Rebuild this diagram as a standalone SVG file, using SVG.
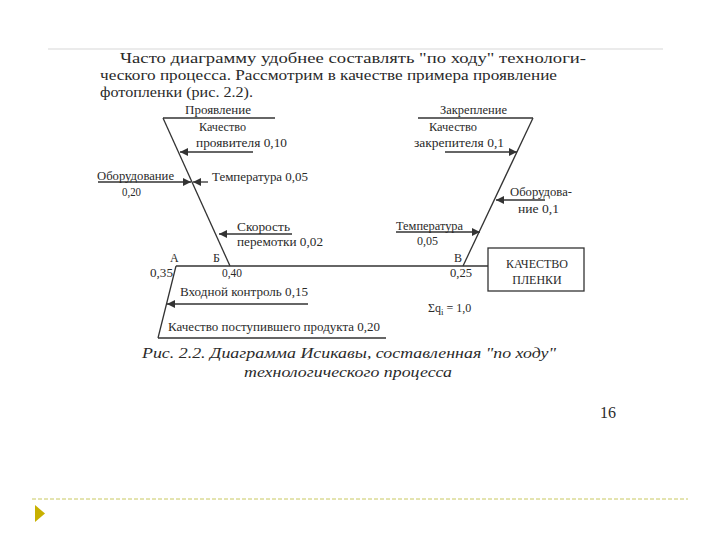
<svg xmlns="http://www.w3.org/2000/svg" width="720" height="540" viewBox="0 0 720 540">
<defs>
<style>
.t{font-family:"Liberation Serif","Times New Roman",serif;fill:#2a2a2a}
.p{font-size:15.5px}
.c{font-size:15.5px;font-style:italic}
.s{font-size:12px}
.ln{stroke:#333;stroke-width:1.3;fill:none}
.ar{stroke:#333;stroke-width:1.3;fill:none;marker-end:url(#ah)}
</style>
<marker id="ah" viewBox="0 0 10 10" refX="10" refY="5" markerWidth="12" markerHeight="8" markerUnits="userSpaceOnUse" orient="auto">
<path d="M0,0 L10,5 L0,10 Z" fill="#333"/>
</marker>
</defs>
<rect width="720" height="540" fill="#fff"/>
<line x1="48" y1="49" x2="663" y2="49" stroke="#d8d8d8" stroke-width="1.2"/>
<g id="paragraph" class="t p">
<text x="120" y="63" textLength="466" lengthAdjust="spacingAndGlyphs">Часто диаграмму удобнее составлять "по ходу" технологи-</text>
<text x="100" y="80" textLength="457" lengthAdjust="spacingAndGlyphs">ческого процесса. Рассмотрим в качестве примера  проявление</text>
<text x="100" y="97" textLength="153" lengthAdjust="spacingAndGlyphs">фотопленки (рис. 2.2).</text>
</g>
<g id="connectors">
<line class="ln" x1="176" y1="266" x2="488" y2="266"/>
<line class="ln" x1="163" y1="118" x2="275" y2="118"/>
<line class="ln" x1="163" y1="118" x2="230" y2="266"/>
<line class="ln" x1="418" y1="118" x2="533" y2="118"/>
<line class="ln" x1="533" y1="118" x2="463" y2="266"/>
<line class="ln" x1="176" y1="266" x2="158" y2="338"/>
<line class="ln" x1="158" y1="338" x2="386" y2="338"/>
<line class="ar" x1="253" y1="152" x2="180" y2="152"/>
<line class="ar" x1="98" y1="182" x2="191" y2="182"/>
<line class="ar" x1="208" y1="182" x2="193" y2="182"/>
<line class="ar" x1="292" y1="234" x2="219" y2="234"/>
<line class="ar" x1="308" y1="304" x2="167" y2="304"/>
<line class="ar" x1="445" y1="152" x2="517" y2="152"/>
<line class="ar" x1="545" y1="200" x2="496" y2="200"/>
<line class="ar" x1="396" y1="232" x2="480" y2="232"/>
</g>
<g id="left-branch" class="t s">
<text x="185" y="114" textLength="66" lengthAdjust="spacingAndGlyphs">Проявление</text>
<text x="199" y="131" textLength="47" lengthAdjust="spacingAndGlyphs">Качество</text>
<text x="196" y="147" textLength="91" lengthAdjust="spacingAndGlyphs">проявителя  0,10</text>
<text x="97" y="180" textLength="77" lengthAdjust="spacingAndGlyphs">Оборудование</text>
<text x="122" y="196" textLength="19" lengthAdjust="spacingAndGlyphs">0,20</text>
<text x="212" y="181" textLength="96" lengthAdjust="spacingAndGlyphs">Температура  0,05</text>
<text x="237" y="231" textLength="53" lengthAdjust="spacingAndGlyphs">Скорость</text>
<text x="237" y="246" textLength="86" lengthAdjust="spacingAndGlyphs">перемотки  0,02</text>
</g>
<g id="right-branch" class="t s">
<text x="440" y="114" textLength="67" lengthAdjust="spacingAndGlyphs">Закрепление</text>
<text x="429" y="131" textLength="48" lengthAdjust="spacingAndGlyphs">Качество</text>
<text x="414" y="147" textLength="90" lengthAdjust="spacingAndGlyphs">закрепителя  0,1</text>
<text x="510" y="196" textLength="62" lengthAdjust="spacingAndGlyphs">Оборудова-</text>
<text x="518" y="213" textLength="41" lengthAdjust="spacingAndGlyphs">ние  0,1</text>
<text x="396" y="230" textLength="67" lengthAdjust="spacingAndGlyphs">Температура</text>
<text x="417" y="245" textLength="21" lengthAdjust="spacingAndGlyphs">0,05</text>
</g>
<g id="points" class="t s">
<text x="170" y="262">А</text>
<text x="150" y="277" textLength="23" lengthAdjust="spacingAndGlyphs">0,35</text>
<text x="213" y="262">Б</text>
<text x="222" y="277" textLength="20" lengthAdjust="spacingAndGlyphs">0,40</text>
<text x="454" y="262">В</text>
<text x="450" y="277" textLength="22" lengthAdjust="spacingAndGlyphs">0,25</text>
</g>
<g id="bottom-branch" class="t s">
<text x="180" y="296" textLength="128" lengthAdjust="spacingAndGlyphs">Входной контроль  0,15</text>
<text x="168" y="331" textLength="212" lengthAdjust="spacingAndGlyphs">Качество поступившего продукта  0,20</text>
</g>
<g id="result">
<rect x="488" y="248" width="96" height="43" fill="#fff" stroke="#333" stroke-width="1.3"/>
<text class="t s" x="537" y="268" text-anchor="middle" font-size="11.5">КАЧЕСТВО</text>
<text class="t s" x="537" y="284" text-anchor="middle" font-size="11.5">ПЛЕНКИ</text>
</g>
<g id="sum" class="t s">
<text x="428" y="312">Σq<tspan font-size="9" dy="3">i</tspan><tspan dy="-3"> = 1,0</tspan></text>
</g>
<g id="caption" class="t c">
<text x="142" y="358" textLength="414" lengthAdjust="spacingAndGlyphs">Рис. 2.2. Диаграмма Исикавы, составленная "по ходу"</text>
<text x="244" y="377" textLength="208" lengthAdjust="spacingAndGlyphs">технологического процесса</text>
</g>
<text class="t" x="600" y="418" font-size="16">16</text>
<line x1="32" y1="499" x2="688" y2="499" stroke="#c8c860" stroke-width="1" stroke-dasharray="4,2"/>
<path d="M35,505 L45,513.5 L35,522 Z" fill="#c8b000"/>
</svg>
